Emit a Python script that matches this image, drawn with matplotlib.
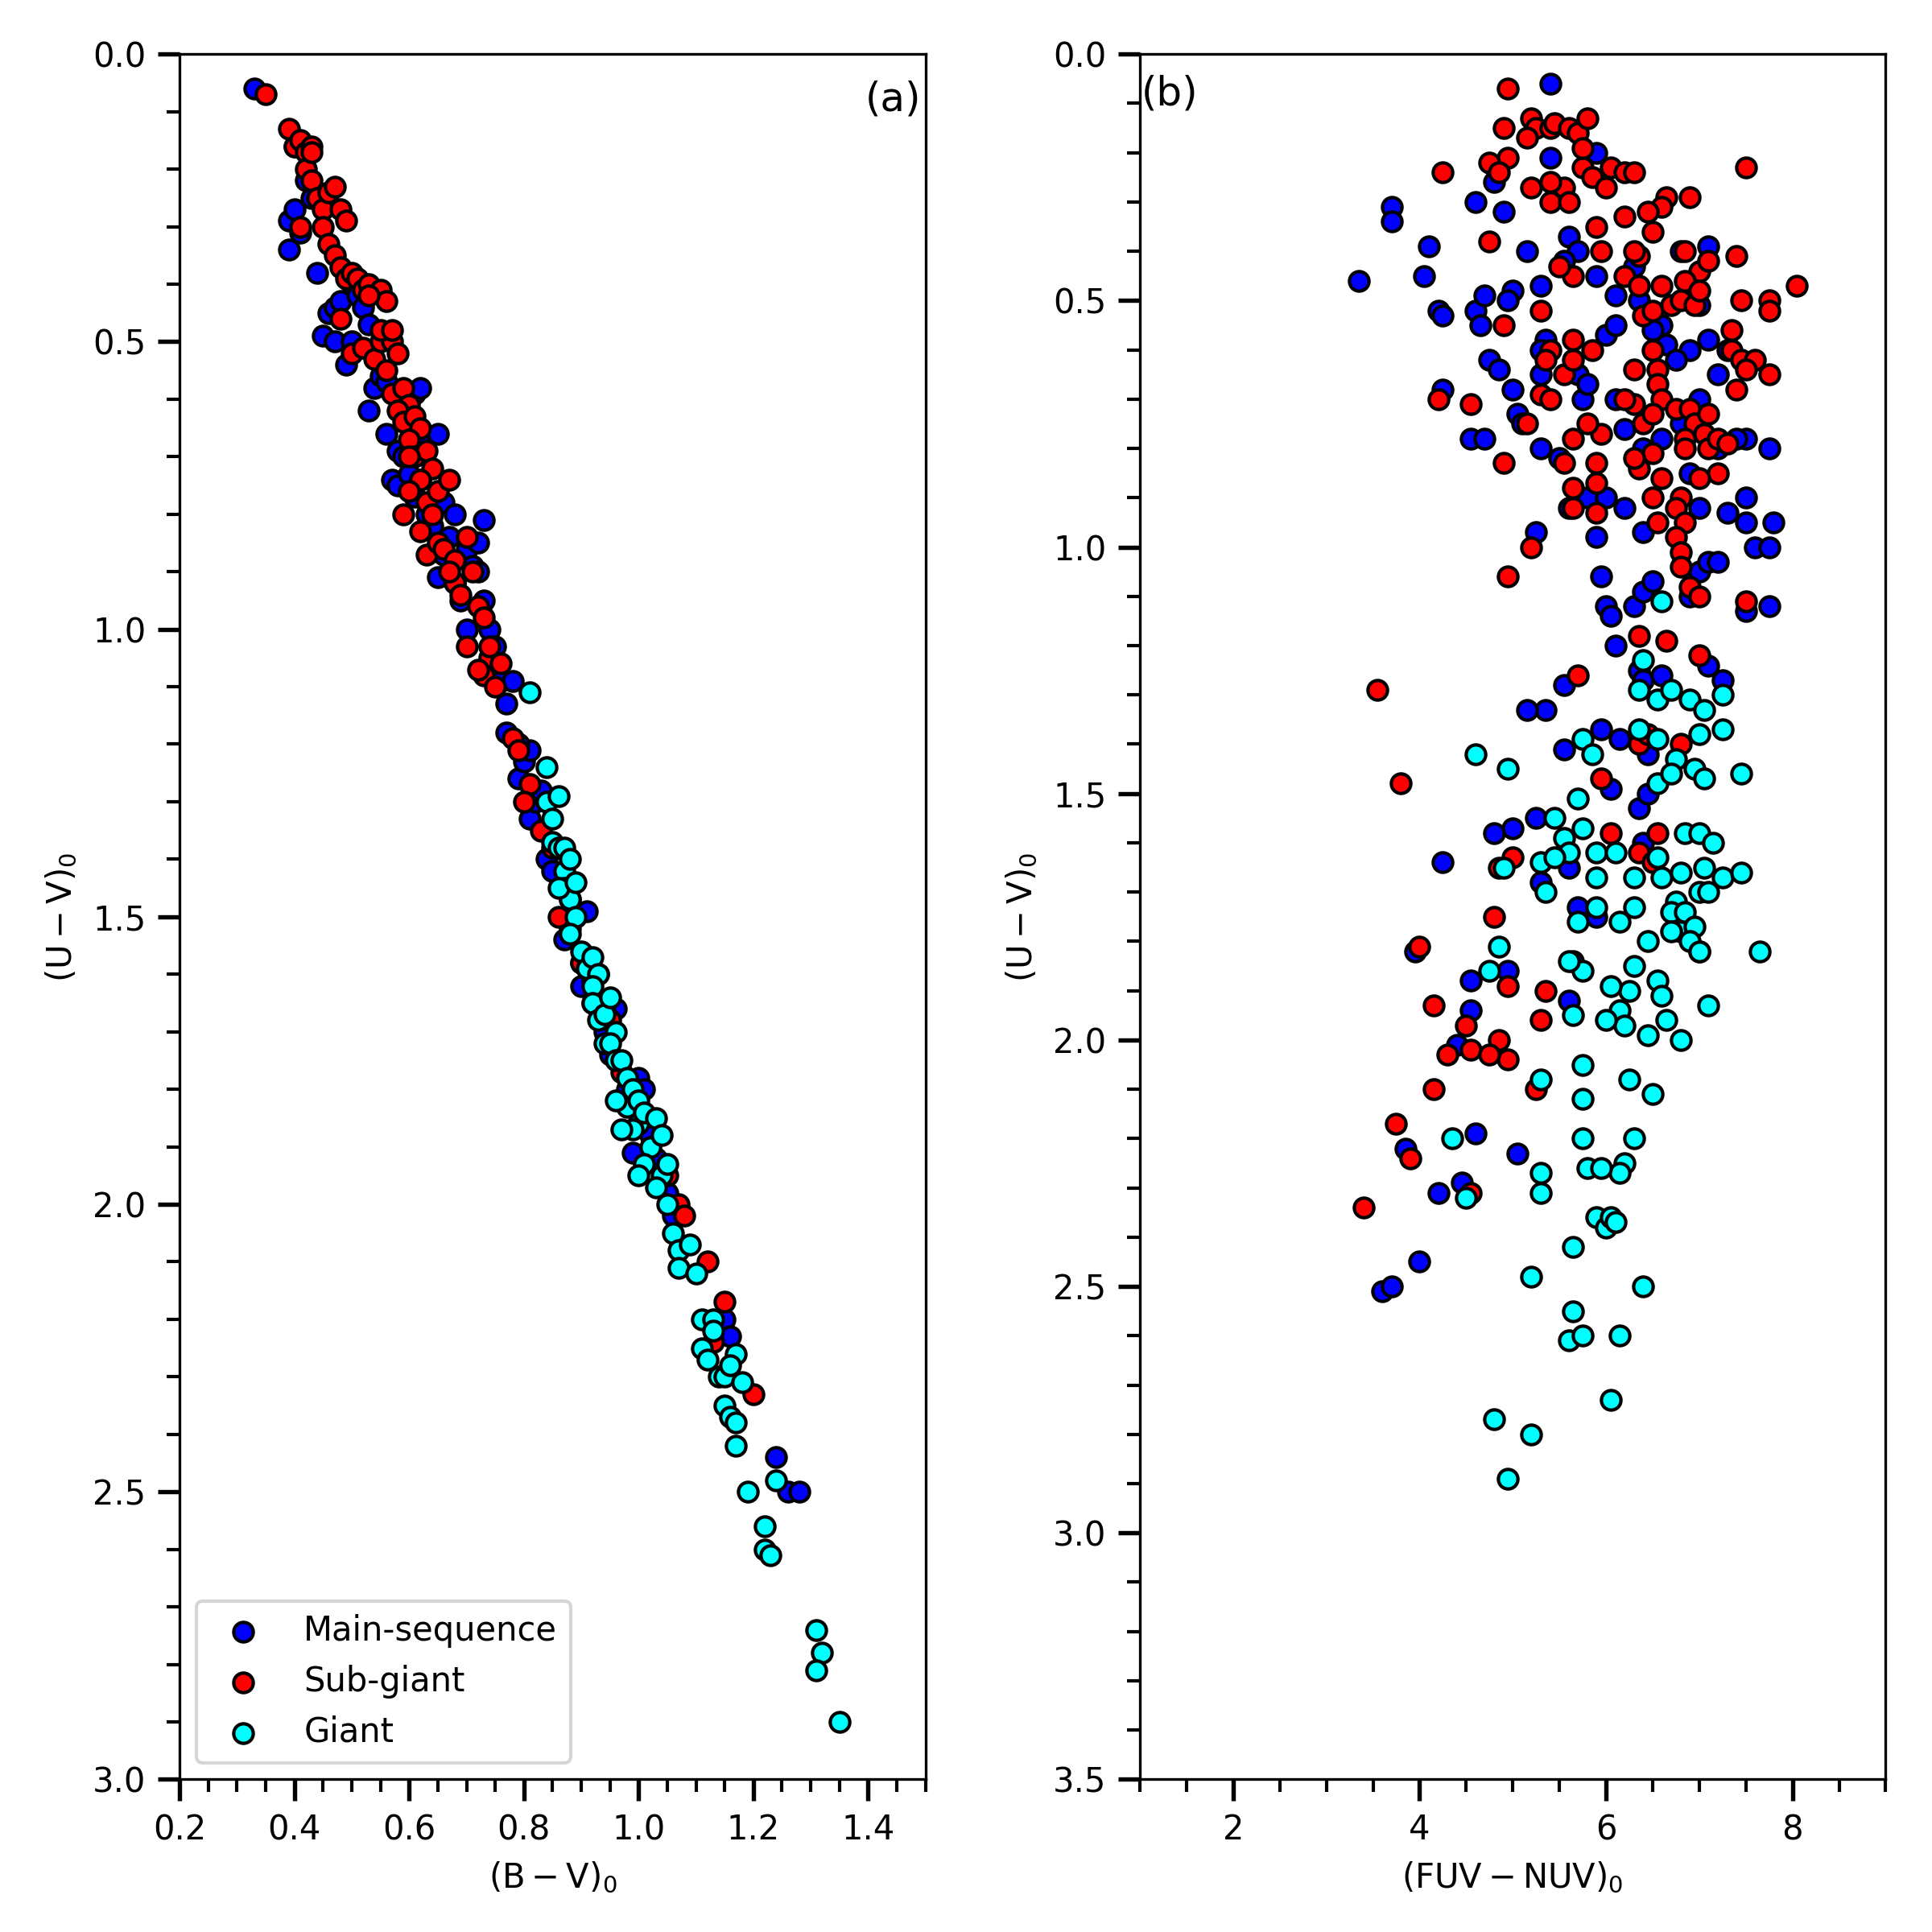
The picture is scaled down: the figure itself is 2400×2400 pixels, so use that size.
import matplotlib
matplotlib.use('Agg')
import matplotlib.pyplot as plt
from matplotlib.ticker import MultipleLocator

# ---- panel (a): (B-V)0 vs (U-V)0 ----
ms_bv = [0.33, 0.39, 0.39, 0.40, 0.41, 0.40, 0.42, 0.43, 0.44, 0.45, 0.46, 0.47, 0.48, 0.47,
         0.49, 0.50, 0.51, 0.52, 0.53, 0.54, 0.55, 0.56, 0.57, 0.56, 0.58, 0.58, 0.59, 0.60,
         0.61, 0.61, 0.62, 0.62, 0.63, 0.64, 0.65, 0.65, 0.66, 0.67, 0.68, 0.69, 0.70, 0.70,
         0.71, 0.72, 0.73, 0.73, 0.74, 0.75, 0.76, 0.77, 0.78, 0.79, 0.80, 0.81, 0.81, 0.82,
         0.83, 0.84, 0.85, 0.86, 0.87, 0.88, 0.89, 0.90, 0.91, 0.92, 0.93, 0.94, 0.95, 0.96,
         0.98, 0.99, 1.00, 1.01, 1.02, 1.03, 1.05, 1.06, 1.15, 1.16, 1.24, 1.26, 1.28, 0.46,
         0.50, 0.53, 0.66, 0.68, 0.72, 0.77, 0.79, 0.90, 0.62]
ms_uv = [0.06, 0.29, 0.34, 0.27, 0.31, 0.16, 0.22, 0.25, 0.38, 0.49, 0.45, 0.44, 0.43, 0.50,
         0.54, 0.40, 0.42, 0.44, 0.62, 0.58, 0.56, 0.57, 0.74, 0.66, 0.69, 0.75, 0.70, 0.73,
         0.77, 0.59, 0.58, 0.66, 0.80, 0.82, 0.66, 0.91, 0.87, 0.84, 0.92, 0.95, 0.86, 1.00,
         0.89, 0.90, 0.81, 0.95, 1.00, 1.03, 1.09, 1.13, 1.09, 1.26, 1.23, 1.21, 1.33, 1.30,
         1.28, 1.40, 1.42, 1.38, 1.54, 1.52, 1.50, 1.62, 1.49, 1.65, 1.60, 1.70, 1.74, 1.66,
         1.80, 1.91, 1.78, 1.80, 1.88, 1.92, 1.98, 2.02, 2.20, 2.23, 2.44, 2.50, 2.50, 0.26,
         0.50, 0.47, 0.78, 0.80, 0.85, 1.18, 1.20, 1.58, 0.74]

sg_bv = [0.35, 0.39, 0.40, 0.41, 0.42, 0.43, 0.42, 0.43, 0.44, 0.45, 0.46, 0.47, 0.48, 0.49,
         0.41, 0.45, 0.46, 0.47, 0.48, 0.49, 0.50, 0.51, 0.52, 0.53, 0.55, 0.56, 0.48, 0.50,
         0.52, 0.54, 0.55, 0.57, 0.58, 0.56, 0.57, 0.59, 0.60, 0.58, 0.59, 0.61, 0.62, 0.60,
         0.61, 0.63, 0.64, 0.62, 0.60, 0.59, 0.63, 0.65, 0.67, 0.62, 0.63, 0.65, 0.66, 0.68,
         0.70, 0.71, 0.68, 0.69, 0.72, 0.70, 0.73, 0.74, 0.73, 0.75, 0.76, 0.78, 0.79, 0.81,
         0.80, 0.83, 0.85, 0.86, 0.88, 0.90, 0.92, 0.94, 0.95, 0.97, 1.05, 1.07, 1.08, 1.12,
         1.15, 1.13, 1.20, 0.43, 0.53, 0.55, 0.57, 0.60, 0.64, 0.67, 0.74, 0.72]
sg_uv = [0.07, 0.13, 0.16, 0.15, 0.17, 0.16, 0.20, 0.22, 0.25, 0.27, 0.24, 0.23, 0.27, 0.29,
         0.30, 0.30, 0.33, 0.35, 0.37, 0.39, 0.38, 0.39, 0.41, 0.40, 0.41, 0.43, 0.46, 0.52,
         0.51, 0.53, 0.50, 0.50, 0.52, 0.55, 0.59, 0.58, 0.61, 0.62, 0.64, 0.63, 0.65, 0.67,
         0.70, 0.69, 0.72, 0.74, 0.76, 0.80, 0.78, 0.76, 0.74, 0.83, 0.87, 0.85, 0.86, 0.88,
         0.84, 0.90, 0.92, 0.94, 0.96, 1.03, 0.98, 1.05, 1.08, 1.10, 1.06, 1.19, 1.21, 1.27,
         1.30, 1.35, 1.38, 1.50, 1.47, 1.58, 1.61, 1.66, 1.68, 1.77, 1.95, 2.00, 2.02, 2.10,
         2.17, 2.24, 2.33, 0.17, 0.42, 0.48, 0.48, 0.70, 0.80, 0.90, 1.03, 1.07]

gi_bv = [0.81, 0.84, 0.84, 0.85, 0.86, 0.85, 0.86, 0.87, 0.87, 0.88, 0.87, 0.88, 0.89, 0.88,
         0.86, 0.89, 0.90, 0.91, 0.92, 0.93, 0.92, 0.92, 0.93, 0.94, 0.95, 0.96, 0.94, 0.95,
         0.96, 0.97, 0.98, 0.98, 0.99, 1.00, 1.00, 0.99, 1.01, 1.02, 1.01, 1.03, 1.04, 1.04,
         1.05, 1.03, 1.05, 1.06, 1.07, 1.09, 1.07, 1.10, 1.11, 1.13, 1.11, 1.12, 1.13, 1.14,
         1.15, 1.17, 1.16, 1.15, 1.16, 1.17, 1.17, 1.18, 1.19, 1.22, 1.22, 1.23, 1.24, 1.31,
         1.32, 1.31, 1.35, 0.96, 0.97, 1.00]
gi_uv = [1.11, 1.24, 1.30, 1.33, 1.29, 1.37, 1.38, 1.38, 1.42, 1.40, 1.45, 1.47, 1.50, 1.53,
         1.45, 1.44, 1.56, 1.59, 1.57, 1.60, 1.62, 1.65, 1.68, 1.67, 1.64, 1.70, 1.72, 1.72,
         1.75, 1.75, 1.78, 1.83, 1.80, 1.82, 1.86, 1.87, 1.84, 1.90, 1.93, 1.85, 1.88, 1.95,
         1.93, 1.97, 2.00, 2.05, 2.08, 2.07, 2.11, 2.12, 2.20, 2.20, 2.25, 2.27, 2.22, 2.30,
         2.30, 2.26, 2.28, 2.35, 2.37, 2.38, 2.42, 2.31, 2.50, 2.56, 2.60, 2.61, 2.48, 2.74,
         2.78, 2.81, 2.90, 1.82, 1.87, 1.95]

# ---- panel (b): (FUV-NUV)0 vs (U-V)0 ----
ms_fn = [5.4, 5.4, 5.9, 4.8, 4.6, 4.9, 3.7, 3.7, 4.1, 3.35, 4.05, 4.2, 4.25, 4.6, 4.7, 4.65,
         5.0, 4.95, 5.3, 5.15, 5.6, 5.7, 5.9, 6.1, 5.55, 6.3, 6.35, 6.8, 7.1, 7.0, 7.1, 6.6,
         6.5, 6.65, 4.25, 4.75, 4.85, 5.0, 5.05, 5.1, 5.3, 5.35, 5.3, 5.7, 5.75, 5.8, 6.0,
         6.1, 5.3, 5.5, 4.55, 4.7, 5.25, 5.9, 5.6, 5.8, 6.0, 6.2, 6.4, 6.9, 7.0, 7.3, 7.5,
         7.5, 7.6, 7.75, 7.8, 7.75, 7.5, 6.1, 6.2, 6.4, 6.6, 6.8, 7.0, 7.2, 7.3, 7.4, 7.2,
         6.9, 6.75, 5.95, 6.0, 6.05, 6.3, 6.4, 6.5, 7.0, 7.1, 7.2, 7.5, 7.75, 6.1, 6.35, 6.4,
         6.6, 7.1, 7.25, 5.55, 5.35, 5.15, 5.55, 5.95, 6.15, 6.45, 6.05, 6.35, 6.45, 5.25,
         5.0, 4.8, 5.3, 5.6, 4.25, 5.7, 5.65, 5.9, 4.55, 4.55, 4.95, 5.6, 3.95, 4.4, 4.6,
         5.05, 3.85, 4.2, 4.45, 4.0, 3.6, 3.7, 6.4, 6.9]
ms_uv_b = [0.06, 0.21, 0.20, 0.26, 0.30, 0.32, 0.31, 0.34, 0.39, 0.46, 0.45, 0.52, 0.53,
           0.52, 0.49, 0.55, 0.48, 0.50, 0.47, 0.40, 0.37, 0.40, 0.45, 0.49, 0.42, 0.43,
           0.50, 0.40, 0.39, 0.51, 0.58, 0.55, 0.56, 0.59, 0.68, 0.62, 0.64, 0.68, 0.73,
           0.75, 0.65, 0.58, 0.60, 0.65, 0.70, 0.67, 0.57, 0.55, 0.80, 0.82, 0.78, 0.78,
           0.97, 0.98, 0.92, 0.90, 0.90, 0.92, 0.97, 0.85, 0.92, 0.93, 0.90, 0.95, 1.00,
           1.00, 0.95, 0.80, 0.78, 0.70, 0.76, 0.80, 0.78, 0.75, 0.70, 0.65, 0.60, 0.78,
           0.80, 0.60, 0.62, 1.06, 1.12, 1.14, 1.12, 1.09, 1.07, 1.05, 1.03, 1.03, 1.13,
           1.12, 1.20, 1.25, 1.27, 1.26, 1.24, 1.27, 1.28, 1.33, 1.33, 1.41, 1.37, 1.39,
           1.42, 1.49, 1.53, 1.50, 1.55, 1.57, 1.58, 1.68, 1.65, 1.64, 1.73, 1.84, 1.75,
           1.88, 1.94, 1.86, 1.92, 1.82, 2.01, 2.19, 2.23, 2.22, 2.31, 2.29, 2.45, 2.51,
           2.50, 1.60, 1.10]

sg_fn = [4.95, 5.2, 5.25, 5.4, 5.45, 5.6, 5.7, 5.8, 5.15, 4.9, 4.95, 4.75, 4.85, 4.25, 5.55,
         5.4, 5.4, 5.6, 5.75, 5.85, 6.05, 6.2, 6.3, 6.0, 5.75, 7.5, 6.9, 6.65, 6.6, 6.2, 6.45,
         6.5, 5.9, 5.2, 4.75, 5.95, 5.65, 5.3, 4.9, 5.5, 6.35, 6.3, 6.85, 7.0, 7.1, 7.4, 6.85,
         8.05, 6.6, 6.2, 6.35, 6.4, 6.5, 6.7, 6.8, 6.95, 7.0, 7.45, 7.75, 7.35, 7.75, 7.35,
         7.45, 7.6, 7.75, 7.5, 7.4, 5.4, 5.35, 5.55, 5.65, 5.65, 5.85, 5.3, 5.15, 5.4, 4.55,
         4.2, 6.3, 6.5, 6.55, 6.55, 6.6, 6.3, 6.2, 6.4, 6.5, 6.75, 6.9, 6.95, 7.1, 7.05, 6.85,
         6.85, 7.1, 7.2, 7.2, 7.0, 7.3, 6.5, 6.35, 6.3, 6.6, 5.95, 5.9, 5.9, 5.8, 5.65, 5.55,
         5.65, 5.65, 5.9, 4.9, 5.2, 4.95, 6.8, 6.75, 6.85, 6.75, 6.8, 6.8, 6.9, 7.0, 7.5, 6.5,
         6.55, 6.35, 7.0, 6.65, 3.55, 5.7, 6.35, 6.45, 5.95, 6.35, 6.5, 6.55, 6.05, 6.8, 3.8,
         4.85, 5.0, 4.8, 4.95, 5.35, 5.3, 5.25, 7.0, 4.0, 4.15, 4.5, 4.3, 4.55, 4.85, 4.95,
         4.75, 4.15, 3.75, 3.9, 3.4, 4.55]
sg_uv_b = [0.07, 0.13, 0.15, 0.15, 0.14, 0.15, 0.16, 0.13, 0.17, 0.15, 0.21, 0.22, 0.24,
           0.24, 0.27, 0.26, 0.30, 0.30, 0.23, 0.25, 0.23, 0.24, 0.24, 0.27, 0.19, 0.23,
           0.29, 0.29, 0.31, 0.33, 0.32, 0.36, 0.35, 0.27, 0.38, 0.40, 0.45, 0.52, 0.55,
           0.43, 0.41, 0.40, 0.40, 0.44, 0.42, 0.41, 0.46, 0.47, 0.47, 0.45, 0.47, 0.53,
           0.52, 0.51, 0.50, 0.51, 0.48, 0.50, 0.50, 0.56, 0.52, 0.60, 0.62, 0.62, 0.65,
           0.64, 0.68, 0.60, 0.62, 0.65, 0.62, 0.58, 0.60, 0.69, 0.75, 0.70, 0.71, 0.70,
           0.64, 0.60, 0.64, 0.67, 0.70, 0.71, 0.70, 0.75, 0.73, 0.72, 0.72, 0.75, 0.73,
           0.77, 0.78, 0.80, 0.80, 0.78, 0.85, 0.86, 0.79, 0.81, 0.84, 0.82, 0.86, 0.77,
           0.83, 0.87, 0.75, 0.78, 0.83, 0.88, 0.92, 0.93, 0.83, 1.00, 1.06, 0.90, 0.92,
           0.95, 0.98, 1.01, 1.04, 1.08, 1.10, 1.11, 0.90, 0.95, 1.18, 1.22, 1.19, 1.29,
           1.26, 1.40, 1.38, 1.47, 1.62, 1.64, 1.58, 1.58, 1.40, 1.48, 1.65, 1.63, 1.75,
           1.89, 1.90, 1.96, 2.10, 1.82, 1.81, 1.93, 1.97, 2.03, 2.02, 2.00, 2.04, 2.03,
           2.10, 2.17, 2.24, 2.34, 2.31]

gi_fn = [6.6, 6.4, 6.35, 6.55, 6.7, 6.9, 7.05, 7.25, 7.25, 7.0, 6.55, 6.35, 6.75, 6.95, 7.05,
         7.45, 5.75, 5.85, 6.55, 6.7, 4.6, 4.95, 5.7, 5.45, 5.75, 5.55, 5.6, 5.9, 6.1, 5.9,
         6.3, 6.55, 6.6, 6.8, 6.85, 7.0, 7.15, 7.05, 7.25, 7.45, 6.75, 6.7, 7.0, 7.1, 6.85,
         6.8, 6.7, 6.95, 6.9, 7.0, 7.65, 6.3, 6.15, 5.9, 4.9, 5.3, 5.45, 5.35, 5.7, 5.75,
         5.6, 4.85, 4.75, 6.45, 6.3, 6.55, 6.6, 6.65, 6.8, 7.1, 6.25, 6.05, 6.15, 6.2, 6.0,
         5.65, 6.45, 5.75, 5.3, 6.25, 6.5, 5.75, 4.35, 4.5, 5.75, 6.3, 5.3, 5.3, 5.8, 6.2,
         6.15, 5.95, 5.9, 6.0, 6.05, 6.1, 5.65, 5.2, 6.4, 5.65, 5.6, 5.75, 6.15, 4.8, 5.2,
         6.05, 4.95]
gi_uv_b = [1.11, 1.23, 1.29, 1.31, 1.29, 1.31, 1.33, 1.30, 1.37, 1.38, 1.39, 1.37, 1.43,
           1.45, 1.47, 1.46, 1.39, 1.42, 1.48, 1.46, 1.42, 1.45, 1.51, 1.55, 1.57, 1.59,
           1.62, 1.62, 1.62, 1.67, 1.67, 1.63, 1.67, 1.66, 1.58, 1.58, 1.60, 1.65, 1.67,
           1.66, 1.72, 1.74, 1.70, 1.70, 1.74, 1.78, 1.78, 1.77, 1.80, 1.82, 1.82, 1.73,
           1.76, 1.73, 1.65, 1.64, 1.63, 1.70, 1.76, 1.86, 1.84, 1.81, 1.86, 1.80, 1.85,
           1.88, 1.91, 1.96, 2.00, 1.93, 1.90, 1.89, 1.94, 1.97, 1.96, 1.95, 1.99, 2.05,
           2.08, 2.08, 2.11, 2.12, 2.20, 2.32, 2.20, 2.20, 2.27, 2.31, 2.26, 2.25, 2.27,
           2.26, 2.36, 2.38, 2.36, 2.37, 2.42, 2.48, 2.50, 2.55, 2.61, 2.60, 2.60, 2.77,
           2.80, 2.73, 2.89]

labels = ['Main-sequence', 'Sub-giant', 'Giant']
colors = ['blue', 'red', 'cyan']

fig = plt.figure(figsize=(8, 8), dpi=300)
ax1 = fig.add_axes([0.093, 0.079, 0.386, 0.893])
ax2 = fig.add_axes([0.590, 0.079, 0.386, 0.893])

panel_a = [(ms_bv, ms_uv), (sg_bv, sg_uv), (gi_bv, gi_uv)]
panel_b = [(ms_fn, ms_uv_b), (sg_fn, sg_uv_b), (gi_fn, gi_uv_b)]

for (x, y), c, lab in zip(panel_a, colors, labels):
    ax1.scatter(x, y, s=34, c=c, edgecolors='k', linewidths=1.0, label=lab)
for (x, y), c in zip(panel_b, colors):
    ax2.scatter(x, y, s=34, c=c, edgecolors='k', linewidths=1.0)

ax1.set_xlim(0.2, 1.5)
ax1.set_ylim(3.0, 0.0)
ax1.xaxis.set_major_locator(MultipleLocator(0.2))
ax1.xaxis.set_minor_locator(MultipleLocator(0.05))
ax1.yaxis.set_major_locator(MultipleLocator(0.5))
ax1.yaxis.set_minor_locator(MultipleLocator(0.1))
ax1.set_xlabel(r'$\rm (B-V)_0$', fontsize=10)
ax1.set_ylabel(r'$\rm (U-V)_0$', fontsize=10)
ax1.text(0.994, 0.985, '(a)', transform=ax1.transAxes, ha='right', va='top', fontsize=12)
ax1.legend(loc='lower left', fontsize=10)

ax2.set_xlim(1, 9)
ax2.set_ylim(3.5, 0.0)
ax2.xaxis.set_major_locator(MultipleLocator(2))
ax2.xaxis.set_minor_locator(MultipleLocator(0.5))
ax2.yaxis.set_major_locator(MultipleLocator(0.5))
ax2.yaxis.set_minor_locator(MultipleLocator(0.1))
ax2.set_xlabel(r'$\rm (FUV-NUV)_0$', fontsize=10)
ax2.set_ylabel(r'$\rm (U-V)_0$', fontsize=10)
ax2.text(0.002, 0.988, '(b)', transform=ax2.transAxes, ha='left', va='top', fontsize=12)

for ax in (ax1, ax2):
    ax.tick_params(which='major', direction='out', length=6.5, width=1.3, labelsize=10)
    ax.tick_params(which='minor', direction='out', length=3.8, width=1.0)

fig.savefig('out.png', dpi=300)
